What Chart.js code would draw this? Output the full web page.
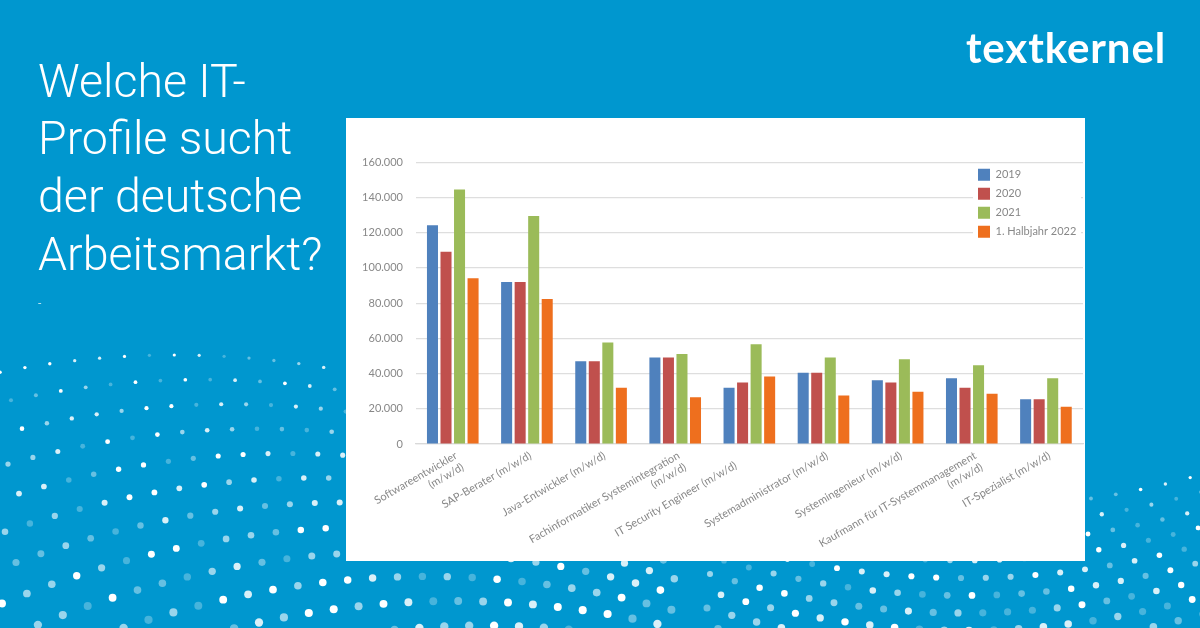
<!DOCTYPE html>
<html lang="de">
<head>
<meta charset="utf-8">
<title>Welche IT-Profile sucht der deutsche Arbeitsmarkt?</title>
<script src="https://cdn.jsdelivr.net/npm/chart.js@4"></script>
<style>
html, body { margin: 0; padding: 0; }
body { position: relative; width: 1200px; height: 628px; overflow: hidden; background: #0097cf; }
#dots { position: absolute; left: 0; top: 0; }
#headline { position: absolute; left: 38px; top: 52.5px; margin: 0; color: #fff; font: 300 46.5px/57.7px Roboto, sans-serif; white-space: nowrap; }
#dash { position: absolute; left: 38px; top: 297px; color: #fff; font: 300 12px Roboto, sans-serif; }
#logo { position: absolute; left: 966px; top: 21px; color: #fff; font: 700 42px/52px Lato, sans-serif; letter-spacing: 0.9px; white-space: nowrap; }
#panel { position: absolute; left: 346px; top: 118px; width: 739px; height: 443px; background: #fff; }
</style>
</head>
<body>
<canvas id="dots" width="1200" height="628"></canvas>
<h1 id="headline">Welche IT-<br>Profile sucht<br>der deutsche<br>Arbeitsmarkt?</h1>
<div id="dash">-</div>
<div id="logo">textkernel</div>
<div id="panel"><canvas id="chart" width="739" height="443"></canvas></div>
<script>
var categories = [
    ["Softwareentwickler", "(m/w/d)"],
    "SAP-Berater (m/w/d)",
    "Java-Entwickler (m/w/d)",
    ["Fachinformatiker Systemintegration", "(m/w/d)"],
    "IT Security Engineer (m/w/d)",
    "Systemadministrator (m/w/d)",
    "Systemingenieur (m/w/d)",
    ["Kaufmann für IT-Systemmanagement", "(m/w/d)"],
    "IT-Spezialist (m/w/d)"
];
var values2019 = [124200, 92000, 47000, 49200, 32000, 40500, 36200, 37300, 25400];
var values2020 = [109200, 92000, 47000, 49200, 35000, 40500, 35000, 32000, 25400];
var values2021 = [144600, 129500, 57700, 51100, 56600, 49200, 48100, 44700, 37300];
var values2022 = [94100, 82300, 32000, 26500, 38400, 27600, 29700, 28600, 21200];

var textColor = '#888888';
var uiFont = 'Lato, sans-serif';

// background dot pattern, only decoration
function dotAlpha(a, b) {
    var h = Math.sin(a * 12.9898 + b * 78.233) * 43758.5453;
    h = h - Math.floor(h);
    return [1, 0.85, 0.6, 0.4, 0.28][Math.floor(h * 5)];
}

function drawDot(ctx, x, y, r, alpha) {
    ctx.fillStyle = 'rgba(255,255,255,' + alpha + ')';
    ctx.beginPath();
    ctx.arc(x, y, r, 0, Math.PI * 2);
    ctx.fill();
}

function drawDots() {
    var ctx = document.getElementById('dots').getContext('2d');
    // left family: rows curve upwards
    for (var r = 0; r < 13; r++) {
        for (var c = -1; c < 30; c++) {
            var x = c * 24.9 + (r * 11) % 25;
            if (x > 680) continue;
            var y = 355 + 24.6 * r + 0.00056 * Math.pow(x - (175 + 28 * r), 2);
            drawDot(ctx, x, y, 1.6 + 0.0095 * (y - 355), dotAlpha(r, c));
        }
    }
    // right family: rows curve downwards
    for (var j = -4; j < 8; j++) {
        for (var k = 0; k < 22; k++) {
            var bx = 700 + k * 24.8 + ((j + 8) * 11) % 25;
            var by = 578 + 17.5 * j - 0.0006 * Math.pow(bx - 965, 2);
            var br = Math.max(1.6, 1.6 + 0.0145 * (by - 475));
            drawDot(ctx, bx, by, Math.min(br, 4.2), dotAlpha(j + 40, k));
        }
    }
}
drawDots();

// moves the legend into the top right corner and cuts the grid lines behind it
var legendBox = {
    id: 'legendBox',
    afterLayout: function(chart) {
        var legend = chart.legend;
        legend.left = 625;
        legend.top = 43.7;
        if (!legend.patched) {
            var draw = legend.draw;
            legend.draw = function() {
                chart.ctx.fillStyle = '#fff';
                chart.ctx.fillRect(627, 67, 108, 55);
                draw.call(legend);
            };
            legend.patched = true;
        }
    }
};

var chart = new Chart(document.getElementById('chart'), {
    type: 'bar',
    data: {
        labels: categories,
        datasets: [
            { label: '2019', data: values2019, backgroundColor: '#4f81bd' },
            { label: '2020', data: values2020, backgroundColor: '#c0504d' },
            { label: '2021', data: values2021, backgroundColor: '#9bbb59' },
            { label: '1. Halbjahr 2022', data: values2022, backgroundColor: '#ee6f1e' }
        ]
    },
    options: {
        responsive: false,
        animation: false,
        layout: { padding: { top: 44.3, right: 2, left: 0, bottom: 0 } },
        datasets: { bar: { barPercentage: 0.815, categoryPercentage: 0.73 } },
        plugins: {
            tooltip: { enabled: false },
            legend: {
                position: 'chartArea',
                align: 'start',
                labels: {
                    boxWidth: 12,
                    boxHeight: 12,
                    padding: 7,
                    color: textColor,
                    font: { family: uiFont, size: 11 }
                }
            }
        },
        scales: {
            x: {
                afterFit: function(scale) { scale.height = 117; },
                grid: { display: false },
                border: { color: '#d9d9d9', width: 1.2 },
                ticks: {
                    autoSkip: false,
                    minRotation: 30,
                    maxRotation: 30,
                    padding: -3,
                    labelOffset: 3.5,
                    color: textColor,
                    font: { family: uiFont, size: 11 },
                    // this one label sits further left in the original
                    callback: function(v, i) {
                        var label = this.getLabelForValue(v);
                        return i === 4 ? label + '       ' : label;
                    }
                }
            },
            y: {
                min: 0,
                max: 160000,
                afterFit: function(scale) { scale.width = 69.7; },
                grid: { color: '#dedede', lineWidth: 1.2, drawTicks: false },
                border: { display: false },
                ticks: {
                    stepSize: 20000,
                    padding: 12.7,
                    color: textColor,
                    font: { family: uiFont, size: 11 },
                    callback: function(v) { return v.toLocaleString('de-DE'); }
                }
            }
        }
    },
    plugins: [legendBox]
});
</script>
</body>
</html>
